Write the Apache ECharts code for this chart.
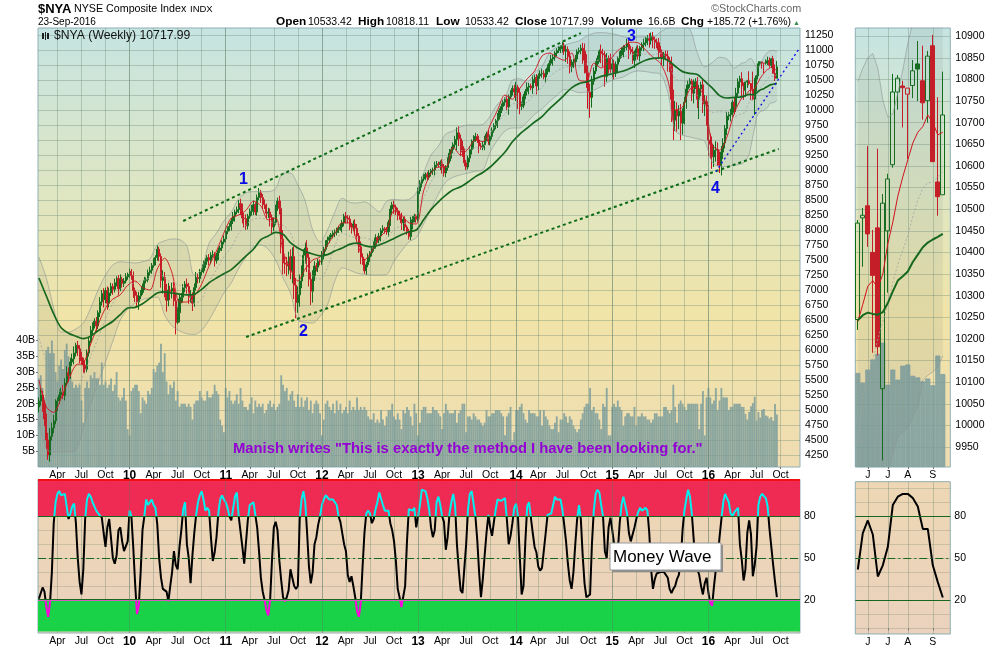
<!DOCTYPE html>
<html>
<head>
<meta charset="utf-8">
<title>$NYA</title>
<script src="https://cdn.jsdelivr.net/npm/echarts@6/dist/echarts.min.js"></script>
<style>
  html, body { margin: 0; padding: 0; background: #fff; }
  #chart { width: 1000px; height: 650px; }
</style>
</head>
<body>
<div id="chart"></div>
<script>
// axis ticks
var priceTicks = [4250,4500,4750,5000,5250,5500,5750,6000,6250,6500,6750,7000,7250,7500,7750,8000,8250,8500,8750,9000,9250,9500,9750,10000,10250,10500,10750,11000,11250];
var recentPriceTicks = [9950,10000,10050,10100,10150,10200,10250,10300,10350,10400,10450,10500,10550,10600,10650,10700,10750,10800,10850,10900];
var volumeTicks = [5,10,15,20,25,30,35,40];
var waveLabels = [20,50,80];
var waveGrid = [0,10,20,30,40,50,60,70,80,90,100];
var recentMonths = ['','','J','','','','J','','','','A','','','','','S','','',''];

// weekly closes, 30-Jan-2009 to 20-May-2016
var firstOpen = 5050;
var weekClose = [
  5150,5250,5100,4850,4500,4250,4560,4700,4820,5050,
  5150,5250,5300,5240,5450,5620,5580,5800,5850,5950,
  6080,6020,5880,5820,5750,5680,5950,6150,6330,6420,
  6480,6400,6620,6800,6940,6840,6990,6780,6950,7060,
  7010,7120,7190,7020,7180,7110,7150,7220,7260,
  7310,7240,6990,6910,6800,6900,6960,7060,7160,7170,
  7290,7330,7410,7480,7540,7680,7560,7160,7210,6990,
  6830,7000,6980,7030,6820,6460,6620,6850,6880,7040,
  7100,7060,6880,6920,6780,7040,7210,7190,7300,7320,
  7420,7480,7540,7500,7580,7590,7490,7560,7660,7700,
  7800,7850,
  7980,8020,8060,8150,8230,8300,8340,8440,8380,8200,
  8190,8070,8230,8310,8360,8420,8300,8540,8620,8540,
  8420,8400,8280,8300,8210,8050,8130,8380,8480,8360,
  7850,7450,7430,7400,7550,7330,7560,7080,6790,6920,
  7150,7330,7580,7700,7540,7180,6980,7240,7400,7380,
  7480,7470,
  7580,7680,7780,7830,7880,7920,7950,7960,8010,8030,
  8050,8120,8230,8200,8180,8080,8050,8100,8030,7900,
  7720,7550,7480,7320,7420,7550,7620,7690,7760,7870,
  7830,7900,7990,8020,8000,7970,8130,8350,8420,8380,
  8320,8240,8230,8120,8180,8050,7980,7890,8130,8170,
  8230,8180,
  8650,8780,8850,8890,8930,8880,8950,8990,9000,9080,
  9100,9090,9130,9060,8950,9040,9150,9280,9340,9420,
  9510,9620,9520,9390,9300,9120,9050,9200,9340,9480,
  9530,9560,9500,9400,9380,9420,9520,9600,9480,9560,
  9660,9740,9820,9890,9990,10060,10130,10180,10050,10220,
  10300,10360,
  10300,10380,10290,10060,10080,10220,10310,10380,10400,10370,
  10510,10540,10400,10570,10600,10610,10550,10640,10700,10780,
  10850,10880,10950,10990,11020,11050,11080,10980,11010,10900,
  10720,10780,10800,10850,10970,10990,11030,10980,10830,10620,
  10300,10210,10480,10650,10770,10860,10980,10940,10920,10560,
  10860,10840,
  10680,10770,10620,10760,10860,10920,10990,11040,11050,11100,
  11010,10970,10830,10940,11020,10900,11040,11090,11120,11170,
  11190,11160,11230,11170,11130,11120,11000,10960,10870,10930,
  10900,10820,10760,10180,9830,10000,9900,9980,9780,9890,
  10130,10350,10430,10480,10280,10420,10470,10180,10350,10420,
  10100,10140,
  9960,9500,9430,9220,9330,9340,9200,9080,9300,9450,
  9690,9900,9920,9960,10130,10060,10280,10470,10520,10400,
  10330
];
var wickUp = [
  60,110,70,60,90,120,140,90,100,130,
  60,90,70,120,80,110,90,70,90,110,
  40,70,60,90,50,80,60,50,70,40,
  50,70,40,80,60,90,50,70,90,60,
  50,70,40,60,80,40,50,60,30,50,
  40,70,50,60,70,40,50,60,40,50,
  60,40,50,40,60,40,50,120,90,110,
  120,70,90,100,130,90,80,70,60,50,
  90,60,80,40,70,90,60,50,40,70,
  50,40,60,50,70,40,60,50,40,30,
  60,50,40,60,50,70,40,50,60,80,
  60,90,70,40,50,60,70,40,50,80,
  50,60,90,40,70,60,50,80,40,60,
  90,130,150,110,120,90,130,150,170,120,
  140,110,80,100,90,130,70,120,90,80,
  50,40,30,70,40,50,60,40,30,40,
  50,30,40,60,50,40,70,50,60,40,
  60,80,70,50,90,60,40,50,60,30,
  40,50,60,30,50,40,60,30,50,40,
  60,50,70,40,50,80,60,40,50,30,
  40,90,60,40,30,60,50,40,50,30,
  40,50,30,40,60,50,40,30,50,40,
  40,60,70,50,40,60,90,110,70,100,
  60,50,40,60,30,50,60,40,70,50,
  60,50,40,70,30,50,40,30,60,40,
  50,40,30,50,40,30,50,60,90,40,
  70,60,50,40,80,50,40,70,50,60,
  40,60,80,50,40,60,50,70,40,30,
  40,50,30,60,40,70,50,80,60,50,
  70,40,50,60,90,130,100,120,140,90,
  60,40,50,30,110,80,60,90,50,100,
  80,70,50,40,60,50,40,30,90,70,
  60,80,50,40,60,30,40,70,50,60,
  90,60,70,50,60,80,70,50,40,60,
  90,60,130,160,150,130,100,120,140,90,
  70,60,50,40,90,60,80,70,50,90,
  110,100,120,110,130,90,140,120,110,100,
  80,60,70,50,60,40,70,90,60,50,
  110,60
];
var wickDown = [
  90,80,130,120,160,80,110,70,90,60,
  70,50,90,60,80,50,110,60,70,90,
  60,120,100,60,130,70,50,60,40,70,
  60,90,50,70,60,130,60,110,70,50,
  90,50,60,110,40,70,60,40,50,60,
  70,120,110,90,130,50,40,60,50,40,
  50,60,40,70,50,80,120,220,110,190,
  100,150,120,90,200,30,160,70,90,80,
  120,110,90,130,60,50,80,70,60,40,
  50,60,90,70,40,100,50,60,40,50,
  40,60,50,40,70,50,90,40,60,130,
  90,150,70,60,40,70,110,50,60,40,
  90,70,50,100,80,150,110,70,50,60,
  100,240,190,160,170,140,150,220,230,260,
  170,200,120,110,140,240,120,230,190,90,
  70,80,60,50,70,40,60,50,40,60,
  70,50,60,40,90,60,90,70,80,110,
  60,120,90,100,120,60,50,70,40,80,
  60,50,70,40,50,90,40,60,50,80,
  60,90,110,70,80,60,120,130,70,60,
  50,60,120,40,60,40,50,70,40,60,
  50,40,60,70,90,40,50,90,120,60,
  70,50,40,90,60,50,180,120,160,80,
  60,50,40,70,80,130,60,50,120,40,
  50,90,40,60,70,50,40,60,120,50,
  40,70,60,50,130,40,60,90,150,270,
  130,60,50,40,70,120,40,100,60,140,
  70,50,60,40,90,50,70,40,110,60,
  60,40,70,90,60,180,130,110,90,80,
  70,50,40,60,210,220,250,280,340,170,
  60,50,40,60,160,200,170,90,230,60,
  130,110,70,150,60,50,110,70,50,160,
  40,60,130,50,60,90,50,110,60,90,
  120,70,140,110,90,150,90,120,140,70,
  180,130,380,330,180,260,220,280,190,130,
  110,70,60,130,170,70,150,330,120,150,
  200,220,260,240,200,170,190,130,130,170,
  120,90,110,70,110,80,130,90,60,100,
  170,160
];
// weekly volume in billions
var weekVolume = [
  28,29,25,22,37,38,36,40,36,30,
  27,32,34,31,37,39,35,31,27,25,
  26,25,26,21,14,25,27,25,29,28,
  30,28,28,26,33,26,27,25,26,28,
  24,26,30,22,21,22,25,21,12,10,
  24,25,26,26,24,17,22,21,20,24,
  23,25,31,30,32,33,39,30,36,27,
  23,26,25,27,21,24,19,20,20,20,
  19,20,19,15,20,21,21,24,22,21,
  21,24,22,22,23,26,24,23,15,13,
  11,25,22,24,21,20,21,23,20,25,
  21,19,19,18,20,22,17,21,19,20,
  19,20,17,18,20,21,19,20,18,19,
  20,29,26,24,25,21,23,24,21,19,
  23,19,22,19,21,22,18,21,17,20,
  21,20,17,10,15,20,21,19,18,20,
  17,21,18,20,17,18,19,17,21,18,
  19,18,22,18,19,18,19,18,16,15,
  15,17,14,15,14,18,15,13,16,18,
  18,20,16,15,17,15,12,18,17,19,
  18,16,13,20,17,10,14,18,19,19,
  17,17,17,19,18,18,17,16,12,17,
  20,18,17,17,17,18,14,17,18,20,
  20,11,16,16,15,17,16,15,15,14,
  13,14,18,16,16,17,17,18,18,18,
  17,16,10,16,17,19,8,11,18,18,
  19,20,17,15,14,18,17,17,17,16,
  16,18,13,18,16,15,13,12,12,14,
  16,11,15,15,17,16,14,16,15,13,
  12,11,12,15,17,19,20,20,25,18,
  19,17,17,15,12,20,19,25,10,10,
  19,20,19,21,19,18,13,16,17,17,
  16,16,19,13,16,16,17,16,16,15,
  15,14,15,17,17,16,16,16,19,19,
  18,17,18,26,19,14,20,21,20,19,
  18,20,20,20,20,20,20,12,20,24,
  10,22,25,22,20,21,25,18,21,25,
  22,22,22,18,19,19,20,20,20,20,
  19,19
];
// money wave oscillator, weekly
var weekWave = [
  21,25,29,26,15,8,18,40,75,90,
  96,98,95,94,96,87,78,82,87,89,
  75,50,33,24,42,78,92,96,94,90,
  87,84,82,81,79,68,58,72,78,78,
  50,46,52,70,72,62,55,56,62,84,
  80,58,32,10,16,40,70,80,92,88,
  88,92,88,86,74,50,36,28,27,26,
  19,30,40,55,45,42,58,70,85,90,
  60,50,32,52,68,81,90,95,98,92,
  84,86,84,65,48,54,65,82,92,95,
  92,90,86,80,77,77,94,97,80,79,
  58,46,45,78,88,89,90,90,72,55,
  36,26,20,13,9,20,48,72,76,70,
  48,34,22,19,22,27,42,36,30,28,
  30,78,92,98,90,68,44,32,40,60,
  65,74,80,88,92,95,96,92,92,92,
  90,88,80,76,76,60,55,38,33,37,
  30,22,12,8,18,44,68,82,84,82,
  75,78,85,90,97,96,88,84,85,84,
  75,70,62,48,28,22,15,16,30,62,
  85,86,84,86,72,80,
  88,99,100,98,93,85,72,65,70,90,
  94,88,80,76,56,65,82,90,96,88,
  60,42,27,25,25,60,85,96,98,97,
  80,63,40,22,35,52,68,81,72,66,
  76,85,92,91,91,92,93,78,60,66,
  75,86,89,80,51,24,30,62,87,90,
  90,68,58,54,44,41,43,44,68,81,
  82,82,88,94,92,93,92,85,74,62,
  46,34,28,40,60,78,88,78,52,32,
  22,21,24,60,84,96,99,97,88,80,
  55,50,72,79,70,60,50,55,75,88,
  94,95,82,68,62,62,72,78,83,86,
  84,85,86,84,68,42,28,35,39,40,
  40,40,40,41,36,28,25,28,30,35,
  38,48,70,84,92,99,94,82,64,44,
  42,38,30,24,32,36,25,18,16,30,
  42,50,65,78,90,96,95,90,82,80,
  83,84,86,60,49,34
];

// line samples, one value per 4 weeks from 30-Jan-2009
var upperSample = [7550,7200,6700,6300,6300,6350,6450,6700,7000,7250,7420,7470,7460,7450,7470,7520,7760,7820,7850,7840,7730,7250,7350,7780,7950,8150,8300,8520,8620,8640,8640,8640,8690,8950,8950,8750,8480,8000,7800,8000,8300,8530,8460,8450,8470,8400,8300,8480,8510,8500,8510,8620,8950,9250,9400,9600,9650,9720,9750,9750,9760,9900,10100,10200,10500,10520,10460,10620,10730,10950,11050,11080,11120,11150,11230,11280,11290,11280,11260,11220,11210,11220,11220,11220,11300,11370,11400,11390,11350,10950,10720,10790,10880,10850,10700,10780];
var lowerSample = [4800,4350,4300,4300,4300,4330,4700,5100,5450,5800,6150,6500,6680,6780,6840,6870,6880,6580,6400,6320,6270,6260,6330,6500,6720,6950,7120,7360,7550,7720,7750,7680,7500,7200,6950,6500,6460,6450,6560,6750,7150,7370,7330,7280,7260,7250,7250,7260,7480,7650,7800,7870,8100,8350,8600,8800,8880,8920,8950,8980,9000,9300,9500,9650,9700,9700,9800,9930,10020,10140,10240,10340,10330,10290,10300,10330,10390,10470,10520,10550,10620,10650,10640,10620,10600,10300,9650,9580,9550,9520,9480,9130,9060,9060,9080,9100];
var centerSample = [6200,5800,5500,5300,5300,5340,5580,5900,6200,6520,6780,6980,7070,7120,7160,7200,7320,7200,7120,7080,7000,6780,6840,7140,7340,7550,7710,7940,8090,8180,8200,8160,8100,8080,7950,7630,7470,7230,7180,7380,7730,7950,7900,7870,7870,7830,7780,7870,8000,8080,8150,8250,8530,8800,9000,9200,9270,9320,9350,9370,9380,9600,9800,9930,10100,10110,10130,10280,10380,10550,10650,10710,10730,10720,10770,10810,10840,10880,10890,10890,10920,10940,10930,10920,10950,10830,10520,10490,10450,10240,10100,9960,9970,9960,9890,9940];
var fastSample = [5500,5050,4960,5200,5500,5750,5780,6100,6420,6700,6850,6920,7080,7150,7040,7000,7350,7530,7280,6800,6800,6900,7100,7400,7650,7950,8200,8250,8330,8480,8400,8170,8200,7650,7350,7150,7350,7500,7550,7750,7940,8120,8120,7800,7500,7650,7870,8000,8320,8250,8120,8100,8650,8950,9050,9050,9380,9250,9350,9500,9470,9750,10000,10250,10180,10360,10520,10650,10900,10950,10880,10830,10950,10500,10480,10780,10700,10800,10960,11060,11130,11120,11000,10880,10780,10500,10000,10050,10350,10380,10180,9420,9330,9550,9950,10200];
var slowSample = [7200,6900,6600,6370,6280,6230,6190,6230,6320,6400,6480,6590,6700,6710,6770,6860,6950,6970,6950,6930,6920,6930,7010,7120,7200,7270,7340,7450,7570,7680,7840,7900,7960,7930,7790,7700,7640,7600,7570,7590,7650,7700,7760,7780,7740,7720,7750,7800,7860,7920,7970,8000,8170,8340,8470,8580,8670,8720,8800,8890,8960,9050,9170,9300,9470,9600,9700,9800,9890,10020,10130,10250,10370,10440,10470,10510,10560,10590,10620,10650,10700,10770,10830,10860,10870,10830,10730,10640,10610,10590,10480,10370,10240,10200,10210,10220];

// last 18 weeks, 27-May-2016 to 23-Sep-2016
var recentOpen = [10245,10480,10508,10400,10457,10085,10450,10603,10771,10785,10766,10786,10836,10797,10751,10878,10563,10533.42];
var recentClose = [10468,10486,10443,10347,10182,10514,10570,10771,10803,10781,10780,10820,10824,10746,10854,10610,10529,10717.99];
var recentLow = [10221,10367,10413,10168,10162,9919,10307,10596,10730,10689,10616,10757,10750,10707,10700,10610,10485,10533.42];
var recentHigh = [10475,10503,10646,10452,10640,10535,10582,10813,10810,10797,10780,10845,10889,10878,10866,10903,10759,10818.11];
var recentVolume = [16.8,15,17.4,19.2,20.2,22.2,14.7,17.4,15.6,18.1,18.3,16.3,16,15.3,15.8,14.6,19.9,16.6];
var recentUpper = [10795,10826,10850,10860,10826,10753,10713,10720,10769,10822,10884,10930,10960,10985,10990,10995,10985,10975];
var recentLower = [9150,9200,9260,9400,9560,9700,9880,9936,9974,9985,9994,10020,10043,10104,10116,10124,10135,10161];
var recentCenter = [9960,10066,10120,10150,10200,10240,10280,10330,10372,10405,10439,10483,10521,10549,10561,10563,10575,10587];
var recentFast = [10240,10280,10322,10335,10318,10350,10420,10470,10530,10575,10614,10653,10678,10691,10718,10700,10672,10678];
var recentSlow = [10243,10255,10261,10258,10256,10262,10283,10310,10335,10345,10356,10378,10395,10412,10423,10430,10436,10443];
var recentWave = [42,68,77,67,37,45,58,88,94,96,96,93,87,71,71,45,33,22];

// drawn trend lines as [week index, price]
var channelTop = [[78,8150],[293,11283]];
var channelBottom = [[112,6217],[400,9350]];
var blueTrend = [[366,8972],[411,11020]];

var GREEN = '#0B6B16', RED = '#D0121E', DARK_GREEN = '#17681F';
var GRID_LINE = 'rgba(105,135,115,0.36)', YEAR_LINE = 'rgba(95,125,105,0.4)';
var FRAME = '#8FAFB5', FONT = '"Liberation Sans", Arial, sans-serif';
var BAND_FILL = 'rgba(110,125,125,0.17)', BAND_LINE = 'rgba(140,150,150,0.6)';
var VOL_FILL = 'rgba(118,155,155,0.82)';

// weekly dates, 12 empty weeks on the right
var weekDates = [], weekLabels = [], yearWeeks = [];
var startDay = Date.UTC(2009, 0, 30);
var monthNames = { 3: 'Apr', 6: 'Jul', 9: 'Oct' };
for (var i = 0; i < 412; i++) {
  var d = new Date(startDay + i * 7 * 86400000);
  weekDates.push(d.toISOString().slice(0, 10));
  var label = '';
  if (d.getUTCDate() >= 4 && d.getUTCDate() <= 10) {
    if (d.getUTCMonth() === 0) {
      label = '{y|' + String(d.getUTCFullYear()).slice(2) + '}';
      yearWeeks.push(i);
    } else if (monthNames[d.getUTCMonth()]) {
      label = monthNames[d.getUTCMonth()];
    }
  }
  weekLabels.push(label);
}

var allVolume = weekVolume.concat(recentVolume);
var allWave = weekWave.concat(recentWave);

var weekCandles = weekClose.map(function (c, i) {
  var o = i === 0 ? firstOpen : weekClose[i - 1];
  return [o, c, Math.min(o, c) - wickDown[i], Math.max(o, c) + wickUp[i]];
});
for (var r = 0; r < recentClose.length; r++) {
  weekCandles.push([r === 0 ? weekClose[weekClose.length - 1] : recentClose[r - 1], recentClose[r], recentLow[r], recentHigh[r]]);
}

// hollow when close above open, colour from the previous close
var recentCandles = recentClose.map(function (c, i) {
  var col = i === 0 || c >= recentClose[i - 1] ? GREEN : RED;
  var fill = c > recentOpen[i] ? 'rgba(0,0,0,0)' : col;
  return {
    value: [recentOpen[i], c, recentLow[i], recentHigh[i]],
    itemStyle: { color: fill, color0: fill, borderColor: col, borderColor0: col }
  };
});

function withRecent(sample, recent) {
  var out = [];
  sample.forEach(function (v, k) { out.push([k * 4, v]); });
  recent.forEach(function (v, k) { out.push([382 + k, v]); });
  return out;
}
var mainUpper = withRecent(upperSample, recentUpper);
var mainLower = withRecent(lowerSample, recentLower);
var mainBand = mainUpper.map(function (p, i) { return [p[0], p[1] - mainLower[i][1]]; });

function priceYAxis(gridIndex, min, max, ticks) {
  return {
    type: 'value', gridIndex: gridIndex, position: 'right', min: min, max: max, scale: true,
    axisLine: { show: false },
    axisTick: { show: false, customValues: ticks },
    axisLabel: {
      customValues: ticks, color: '#000', fontFamily: FONT, fontSize: 10.5, margin: 5,
      formatter: function (v) { return String(v); }
    },
    splitLine: { show: true, lineStyle: { color: GRID_LINE } }
  };
}
function volYAxis(gridIndex, max, show) {
  return {
    type: 'value', gridIndex: gridIndex, position: 'left', min: 0, max: max,
    axisLine: { show: false },
    axisTick: { show: show, length: 2, lineStyle: { color: '#777' }, customValues: volumeTicks },
    axisLabel: {
      show: show, customValues: volumeTicks, color: '#000', fontFamily: FONT, fontSize: 10.5, margin: 3,
      formatter: function (v) { return v + 'B'; }
    },
    splitLine: { show: false }
  };
}
function waveYAxis(gridIndex, min, max) {
  return {
    type: 'value', gridIndex: gridIndex, position: 'right', min: min, max: max,
    axisLine: { show: false },
    axisTick: { show: false, customValues: waveGrid },
    axisLabel: { customValues: waveLabels, color: '#000', fontFamily: FONT, fontSize: 10.5, margin: 4 },
    splitLine: { show: true, lineStyle: { color: 'rgba(120,130,110,0.28)' } }
  };
}
function timeXAxis(gridIndex) {
  var show = function (i) { return !!weekLabels[i]; };
  return {
    type: 'category', gridIndex: gridIndex, data: weekDates, boundaryGap: true,
    axisLine: { show: false },
    axisTick: { show: true, length: 2, alignWithLabel: true, interval: show, lineStyle: { color: '#777' } },
    axisLabel: {
      interval: show, margin: 3, color: '#000', fontFamily: FONT, fontSize: 10.5,
      formatter: function (v, i) { return weekLabels[i]; },
      rich: { y: { fontFamily: FONT, fontSize: 12, fontWeight: 'bold', color: '#000' } }
    },
    splitLine: { show: true, alignWithLabel: true, interval: show, lineStyle: { color: GRID_LINE } }
  };
}
function recentXAxis(gridIndex) {
  var show = function (i) { return !!recentMonths[i]; };
  return {
    type: 'category', gridIndex: gridIndex, data: recentMonths.map(function (m, i) { return i; }), boundaryGap: true,
    axisLine: { show: false },
    axisTick: { show: true, length: 2, alignWithLabel: true, interval: show, lineStyle: { color: '#777' } },
    axisLabel: {
      interval: show, margin: 3, color: '#000', fontFamily: FONT, fontSize: 10.5,
      formatter: function (v, i) { return recentMonths[i]; }
    },
    splitLine: { show: true, alignWithLabel: true, interval: show, lineStyle: { color: GRID_LINE } }
  };
}
function markLines(items) {
  return { silent: true, symbol: 'none', label: { show: false }, animation: false, data: items };
}
function level(v, color, type, width) {
  return { yAxis: v, lineStyle: { color: color, type: type || 'solid', width: width || 1.2 } };
}
function thinLine(x, y, data, color, width, extra) {
  return Object.assign({
    type: 'line', xAxisIndex: x, yAxisIndex: y, data: data, showSymbol: false, symbol: 'none',
    lineStyle: { color: color, width: width }, itemStyle: { color: color }, silent: true
  }, extra || {});
}
function yearLines() {
  return yearWeeks.map(function (w) { return { xAxis: w, lineStyle: { color: YEAR_LINE, width: 1, type: 'solid' } }; });
}

var series = [];
// main panel
series.push(thinLine(0, 0, mainLower, BAND_LINE, 1, { stack: 'bb', smooth: 0.3, markLine: markLines(yearLines()) }));
series.push(thinLine(0, 0, mainBand, BAND_LINE, 1, { stack: 'bb', smooth: 0.3, areaStyle: { color: BAND_FILL } }));
series.push(thinLine(0, 0, withRecent(centerSample, recentCenter), 'rgba(160,165,160,0.8)', 1, { smooth: 0.3, lineStyle: { color: 'rgba(160,165,160,0.8)', width: 1, type: [2, 2] } }));
series.push({
  type: 'candlestick', xAxisIndex: 0, yAxisIndex: 0, data: weekCandles, barWidth: 1.6, silent: true,
  itemStyle: { color: GREEN, color0: RED, borderColor: GREEN, borderColor0: RED, borderWidth: 1 }
});
series.push(thinLine(0, 0, withRecent(fastSample, recentFast), RED, 0.9, { smooth: 0.3 }));
series.push(thinLine(0, 0, withRecent(slowSample, recentSlow), DARK_GREEN, 1.7, { smooth: 0.3 }));
series.push(thinLine(0, 0, channelTop, '#0B6B16', 2, { lineStyle: { color: '#0B6B16', width: 2, type: [3, 3] } }));
series.push(thinLine(0, 0, channelBottom, '#0B6B16', 2, { lineStyle: { color: '#0B6B16', width: 2, type: [3, 3] } }));
series.push(thinLine(0, 0, blueTrend, '#1414E6', 1.4, { lineStyle: { color: '#1414E6', width: 1.4, type: [2, 3] } }));
series.push({
  type: 'bar', xAxisIndex: 0, yAxisIndex: 1, data: allVolume, barWidth: 1.85, silent: true,
  itemStyle: { color: VOL_FILL }
});
// money wave panel, the colours come from the visualMap
var waveIndex = series.length;
series.push({
  type: 'line', xAxisIndex: 1, yAxisIndex: 2, data: allWave, showSymbol: false, symbol: 'none', silent: true,
  lineStyle: { width: 2 },
  markArea: {
    silent: true, animation: false,
    data: [
      [{ yAxis: 80, itemStyle: { color: 'rgba(238,37,81,0.97)' } }, { yAxis: 106.3 }],
      [{ yAxis: 20, itemStyle: { color: 'rgba(20,210,68,0.98)' } }, { yAxis: -2.6 }]
    ]
  },
  markLine: markLines([
    level(80, DARK_GREEN), level(50, DARK_GREEN, [8, 3, 2, 3]),
    level(20.5, DARK_GREEN, 'solid', 1), level(19.8, '#D75CC2', 'solid', 1)
  ].concat(yearLines()))
});
// right panel
series.push(thinLine(2, 3, recentLower, BAND_LINE, 1, { stack: 'rb' }));
series.push(thinLine(2, 3, recentUpper.map(function (v, i) { return v - recentLower[i]; }), BAND_LINE, 1, { stack: 'rb', areaStyle: { color: BAND_FILL } }));
series.push(thinLine(2, 3, recentCenter, 'rgba(160,165,160,0.8)', 1, { lineStyle: { color: 'rgba(160,165,160,0.8)', width: 1, type: [2, 2] } }));
series.push({ type: 'candlestick', xAxisIndex: 2, yAxisIndex: 3, data: recentCandles, barWidth: 4.6, silent: true });
series.push(thinLine(2, 3, recentFast, RED, 1));
series.push(thinLine(2, 3, recentSlow, DARK_GREEN, 2));
series.push({
  type: 'bar', xAxisIndex: 2, yAxisIndex: 4, data: recentVolume, barWidth: 5, silent: true,
  itemStyle: { color: VOL_FILL, borderColor: '#7E9FA5', borderWidth: 0.8 }
});
series.push(thinLine(3, 5, recentWave, '#000', 2, {
  markLine: markLines([level(80, DARK_GREEN), level(50, DARK_GREEN, [8, 3, 2, 3]), level(20, DARK_GREEN)])
}));

function txt(x, y, s, size, bold, color) {
  return {
    type: 'text', x: x, y: y, z: 50, silent: true,
    style: { text: s, fontFamily: FONT, fontSize: size, fontWeight: bold ? 'bold' : 'normal', fill: color || '#000', textVerticalAlign: 'middle' }
  };
}

var panelFill = {
  type: 'linear', x: 0, y: 0, x2: 0, y2: 1,
  colorStops: [
    { offset: 0, color: '#C6E4E2' }, { offset: 0.38, color: '#DFE6C2' },
    { offset: 0.65, color: '#F1E4A8' }, { offset: 1, color: '#EFDCB2' }
  ]
};
var waveFill = {
  type: 'linear', x: 0, y: 0, x2: 0, y2: 1,
  colorStops: [{ offset: 0, color: '#EED7B3' }, { offset: 1, color: '#EAD2BE' }]
};

var option = {
  animation: false,
  backgroundColor: '#fff',
  grid: [
    { left: 38, top: 28, width: 762, height: 439, show: true, backgroundColor: panelFill, borderColor: FRAME, borderWidth: 1 },
    { left: 38, top: 479.5, width: 762, height: 153.5, show: true, backgroundColor: waveFill, borderColor: FRAME, borderWidth: 1 },
    { left: 855.3, top: 28, width: 95, height: 439, show: true, backgroundColor: panelFill, borderColor: FRAME, borderWidth: 1 },
    { left: 855.3, top: 481.7, width: 95, height: 152.3, show: true, backgroundColor: waveFill, borderColor: FRAME, borderWidth: 1 }
  ],
  xAxis: [timeXAxis(0), timeXAxis(1), recentXAxis(2), recentXAxis(3)],
  yAxis: [
    priceYAxis(0, 4050, 11367, priceTicks),
    volYAxis(0, 138.8, true),
    waveYAxis(1, -3.6, 106.3),
    priceYAxis(2, 9904, 10919, recentPriceTicks),
    volYAxis(2, 78.4, false),
    waveYAxis(3, -4.07, 104.7)
  ],
  visualMap: [{
    type: 'piecewise', show: false, seriesIndex: waveIndex, dimension: 1,
    pieces: [{ lt: 20, color: '#FF00E0' }, { gte: 20, lte: 80, color: '#000000' }, { gt: 80, color: '#00EFEF' }]
  }],
  series: series,
  graphic: [
    txt(38, 9, '$NYA', 13, true),
    txt(74, 9, 'NYSE Composite Index', 10.7),
    txt(190, 9, 'INDX', 9.5),
    txt(38, 22, '23-Sep-2016', 10),
    txt(276, 22, 'Open', 11.8, true), txt(308, 22, '10533.42', 10.5),
    txt(358, 22, 'High', 11.8, true), txt(386, 22, '10818.11', 10.5),
    txt(436, 22, 'Low', 11.8, true), txt(465, 22, '10533.42', 10.5),
    txt(515, 22, 'Close', 11.8, true), txt(550, 22, '10717.99', 10.5),
    txt(601, 22, 'Volume', 11.8, true), txt(648, 22, '16.6B', 10.5),
    txt(681, 22, 'Chg', 11.8, true), txt(707, 22, '+185.72 (+1.76%)', 10.5),
    txt(793, 23, '\u25B2', 7, false, '#3C8C50'),
    txt(711, 9, '\u00A9StockCharts.com', 10.8, false, '#666'),
    { type: 'rect', z: 50, silent: true, shape: { x: 42, y: 33, width: 2, height: 6 }, style: { fill: '#222' } },
    { type: 'rect', z: 50, silent: true, shape: { x: 45, y: 32, width: 1, height: 8 }, style: { fill: '#222' } },
    { type: 'rect', z: 50, silent: true, shape: { x: 47, y: 33, width: 2, height: 6 }, style: { fill: '#222' } },
    txt(54, 36, '$NYA (Weekly) 10717.99', 12.2, false, '#111'),
    txt(239, 180, '1', 16, true, '#0A0AE6'),
    txt(299, 332, '2', 16, true, '#0A0AE6'),
    txt(627, 37, '3', 16, true, '#0A0AE6'),
    txt(711, 189, '4', 16, true, '#0A0AE6'),
    txt(233, 449, 'Manish writes "This is exactly the method I have been looking for."', 14.8, true, '#9400D3'),
    { type: 'rect', z: 49, silent: true, shape: { x: 612, y: 545, width: 111, height: 27 }, style: { fill: '#8C8C8C' } },
    { type: 'rect', z: 50, silent: true, shape: { x: 610, y: 543, width: 111, height: 27 }, style: { fill: '#fff', stroke: '#999', lineWidth: 1 } },
    txt(613, 557, 'Money Wave', 17, false, '#000'),
    { type: 'rect', z: 50, silent: true, shape: { x: 38, y: 479, width: 762, height: 2 }, style: { fill: '#F01010' } }
  ]
};

var myChart = echarts.init(document.getElementById('chart'), null, { renderer: 'canvas' });
myChart.setOption(option);
</script>
</body>
</html>
